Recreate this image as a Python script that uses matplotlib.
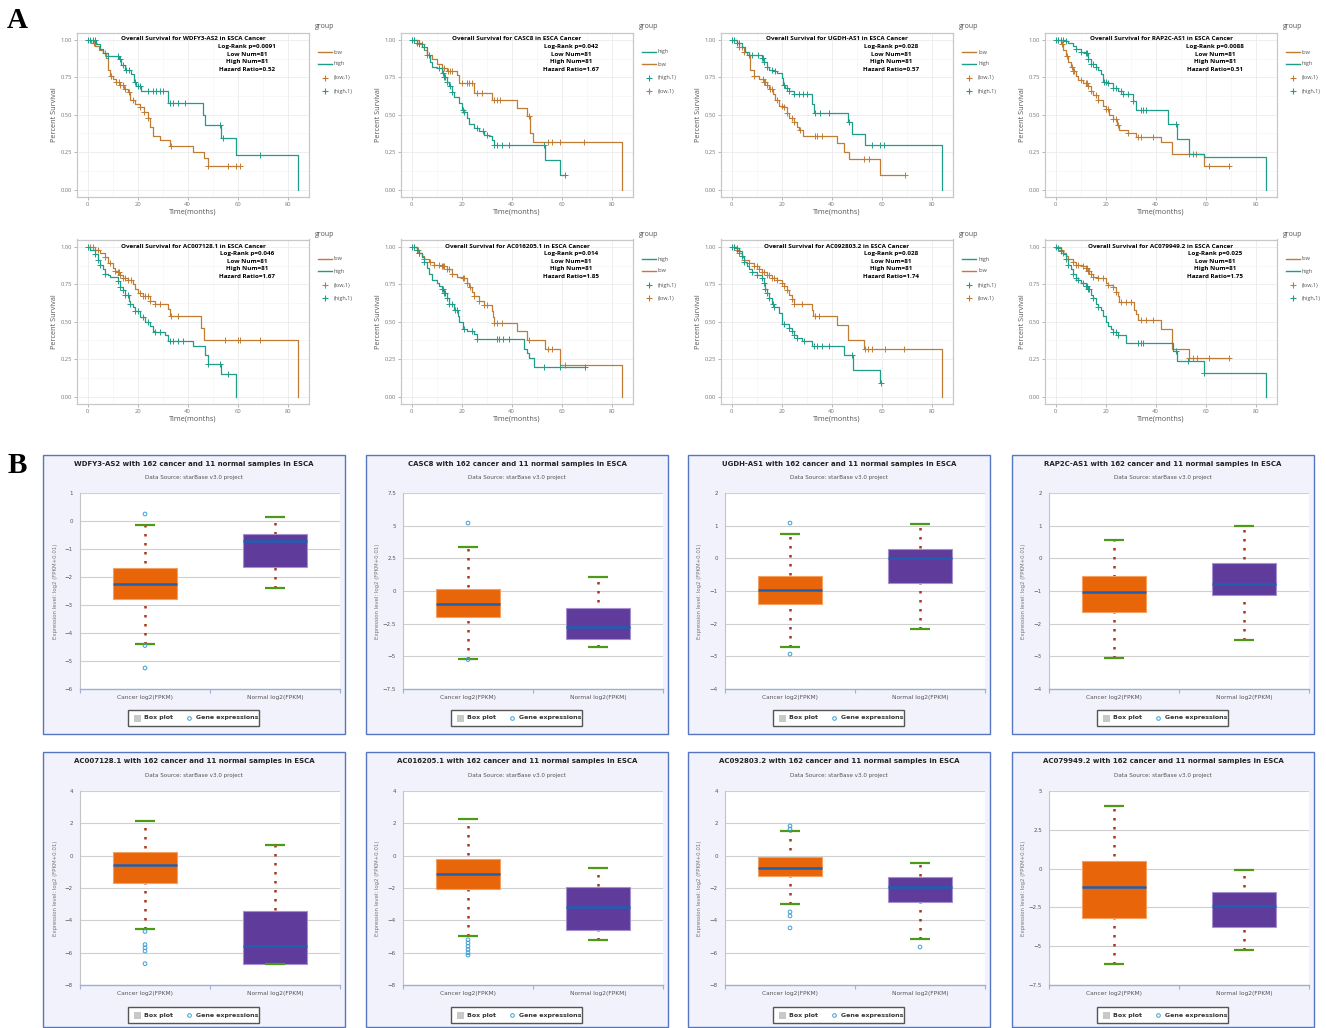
import matplotlib
matplotlib.use("Agg")
import matplotlib.pyplot as plt
import numpy as np
from matplotlib.lines import Line2D
from matplotlib.patches import Rectangle

# ---------------- panel A: Kaplan-Meier data ----------------
km_genes = ["WDFY3-AS2", "CASC8", "UGDH-AS1", "RAP2C-AS1",
            "AC007128.1", "AC016205.1", "AC092803.2", "AC079949.2"]
km_pvals = ["0.0091", "0.042", "0.028", "0.0088", "0.046", "0.014", "0.028", "0.025"]
km_hr = ["0.52", "1.67", "0.57", "0.51", "1.67", "1.85", "1.74", "1.75"]
km_high_first = [False, True, False, False, False, True, True, False]

wdfy3_low_t = [0, 1.5, 3, 4.5, 6, 7.5, 8, 9, 10, 11.5, 13, 14.5, 16, 17, 19, 21, 22.5, 24, 25, 26, 29, 33, 42, 46.5, 48, 61]
wdfy3_low_s = [1, .98, .96, .93, .91, .88, .80, .76, .74, .72, .70, .67, .65, .60, .57, .55, .52, .48, .42, .36, .33, .29, .25, .21, .155, .155]
wdfy3_low_c = [2.5, 7, 9.5, 11.5, 12.5, 13, 14, 15, 16.5, 18, 21, 22.5, 24, 33.5, 48, 56, 59.5, 61]
wdfy3_high_t = [0, 3.5, 5, 6, 8, 12.5, 13.5, 15, 17.5, 18.5, 19.5, 21.5, 32, 46, 47, 53.5, 59.5, 84.3]
wdfy3_high_s = [1, .97, .94, .91, .895, .87, .83, .80, .77, .72, .69, .66, .58, .50, .43, .345, .23, 0]
wdfy3_high_c = [0, 1, 2, 3, 8, 12, 13, 14, 15.5, 16.5, 19, 20, 21, 24, 26, 27.5, 29, 30, 33, 34, 36, 39, 53, 54, 69]

casc8_low_t = [0, 3, 5, 6, 8, 10, 12, 14, 18, 19, 25, 32, 42, 46, 47.5, 48.5, 84.3]
casc8_low_s = [1, .97, .93, .90, .87, .84, .81, .79, .765, .715, .645, .60, .545, .49, .38, .32, 0]
casc8_low_c = [1, 3, 4, 6, 12, 13, 14.5, 15.5, 16, 20, 22, 23, 24, 26, 28, 33, 34, 35.5, 47, 54.5, 56, 59.5, 69]
casc8_high_t = [0, 2, 4, 6, 7.5, 8, 10, 12, 13, 14, 15, 16, 17, 19, 20, 21, 22, 23, 25, 27, 29, 31, 32, 33, 53.3, 59.3, 61.5]
casc8_high_s = [1, .98, .95, .90, .85, .82, .81, .78, .75, .72, .69, .65, .62, .58, .53, .52, .48, .44, .41, .39, .365, .36, .33, .30, .197, .10, .10]
casc8_high_c = [0, 1, 2, 3, 5, 7, 11, 12.5, 13, 13.5, 14, 15.5, 16, 20.5, 21, 26, 28.5, 30, 33, 34, 36, 39, 53, 61.5]

ugdh_low_t = [0, 2, 3, 5, 6, 7.5, 9, 11, 13, 14, 15, 16.5, 17.5, 19, 21, 22, 23, 25, 26, 27, 28.5, 42, 45, 47, 59.5, 69.3]
ugdh_low_s = [1, .98, .95, .92, .90, .80, .76, .74, .72, .70, .67, .64, .60, .56, .55, .51, .48, .45, .42, .40, .36, .31, .25, .205, .10, .10]
ugdh_low_c = [3, 4, 5, 9, 12.5, 13, 13.5, 14, 15.5, 16, 18, 20, 21, 22, 24, 25, 27.5, 33.5, 34, 36, 53, 55, 69.3]
ugdh_high_t = [0, 2, 4, 5.5, 7, 12, 13, 14, 15, 17, 18, 20, 20.5, 21.5, 23, 25, 32, 33, 46.5, 48, 53.5, 84.3]
ugdh_high_s = [1, .98, .95, .92, .90, .88, .85, .82, .80, .79, .78, .745, .70, .68, .66, .64, .575, .51, .45, .37, .30, 0]
ugdh_high_c = [0, 1, 2, 3, 7, 8, 10.5, 12, 12.5, 13, 14, 16, 17.5, 21, 22, 23, 25, 27, 28.5, 30, 33.5, 35.5, 39, 47, 56, 59.5, 61]

rap2c_low_t = [0, 2, 3, 4, 5, 6, 7, 8, 9, 11, 13, 14, 15, 17, 19, 20, 21.5, 23, 24.5, 25.5, 29, 32, 42, 46.5, 59.5, 69.4]
rap2c_low_s = [1, .97, .93, .89, .85, .82, .79, .76, .73, .71, .69, .66, .63, .60, .56, .54, .50, .47, .43, .40, .38, .35, .32, .235, .16, .16]
rap2c_low_c = [1, 2.5, 4.5, 6.5, 7, 7.5, 10, 12, 12.5, 13, 14, 16, 17, 20, 21, 23, 24, 25, 29, 33, 34, 39, 53.5, 55, 56, 61.5, 69.4]
rap2c_high_t = [0, 4, 5, 7, 8, 10, 12, 13, 14, 16, 17, 18, 19, 21, 23, 25, 27, 31, 32, 45, 48.5, 53.5, 59.5, 84.3]
rap2c_high_s = [1, .99, .98, .96, .94, .92, .91, .87, .84, .82, .80, .77, .72, .71, .68, .66, .64, .59, .535, .44, .335, .235, .22, 0]
rap2c_high_c = [0, 1, 2, 3, 4, 8, 10, 12, 12.5, 13, 14, 15, 16, 19.5, 20, 21, 23, 24, 26, 27, 29, 31, 34, 35, 36, 48]

ac007_low_t = [0, 3, 5, 7, 8, 10, 11, 12, 13, 14, 16, 18, 19, 20, 22, 25, 27, 32, 33, 45.5, 46.5, 84.3]
ac007_low_s = [1, .98, .96, .93, .89, .86, .84, .83, .81, .79, .78, .75, .72, .695, .67, .64, .62, .585, .54, .46, .38, 0]
ac007_low_c = [1, 2, 3, 4, 7, 9, 11, 12, 12.5, 13, 14, 15, 16, 17.5, 21, 22, 23, 24, 25, 27, 29, 33.5, 36, 55, 60, 61, 69]
ac007_high_t = [0, 1, 3, 4, 5, 6, 7, 8, 9, 12, 13, 14, 15, 16.5, 17, 18, 19, 21, 23, 25, 26, 27, 31, 32, 42, 47, 48, 53.5, 59.5]
ac007_high_s = [1, .98, .95, .91, .88, .85, .82, .81, .80, .77, .73, .71, .68, .64, .62, .60, .57, .53, .50, .47, .44, .43, .41, .37, .335, .275, .22, .15, 0]
ac007_high_c = [0, 3, 4, 5, 7, 12, 13, 14, 15, 16, 17, 19, 20, 22, 24, 27, 29, 33, 34, 36, 38, 48, 53, 56]

ac016_low_t = [0, 2, 3, 4, 5, 7, 9, 12, 14, 16, 18, 20, 22, 23, 24, 25, 27, 29, 32, 32.5, 33, 42, 46, 53.5, 59.5, 84.3]
ac016_low_s = [1, .98, .96, .94, .92, .90, .88, .87, .85, .82, .80, .79, .76, .73, .70, .67, .64, .61, .57, .53, .49, .435, .38, .32, .21, 0]
ac016_low_c = [1, 2.5, 3, 5, 7.5, 9, 11, 12, 12.5, 13, 14, 15, 16, 20.5, 21, 22, 23.5, 25, 27, 29, 30, 33, 34, 36, 47, 54.5, 56, 61.5]
ac016_high_t = [0, 2, 3, 4, 5, 6, 7, 8, 10, 11, 12, 13, 14, 15, 17, 18.5, 19, 20.5, 22, 25, 26, 45, 46, 47, 49, 69.3]
ac016_high_s = [1, .98, .96, .93, .90, .86, .82, .78, .76, .74, .72, .69, .66, .62, .58, .54, .50, .45, .44, .42, .385, .32, .29, .255, .195, .195]
ac016_high_c = [0, 1, 2, 3, 5, 12, 12.5, 13, 13.5, 14, 15, 16, 17.5, 18, 21, 24, 26, 34, 35, 36.5, 39, 53, 59.5, 69.3]

ac092_low_t = [0, 2, 3, 4, 5, 7, 9, 11, 12, 14, 16, 18, 20, 21, 22, 23, 24, 25, 32, 32.5, 42, 46.5, 53, 84.3]
ac092_low_s = [1, .98, .96, .93, .91, .89, .87, .85, .83, .81, .79, .78, .76, .74, .71, .68, .65, .62, .58, .54, .48, .375, .315, 0]
ac092_low_c = [1, 2, 3, 5, 7, 9, 10, 11, 12, 13, 14, 15, 16, 17, 18, 20, 21, 22, 24, 25, 28, 33.5, 35, 53.5, 54.5, 56, 61.5, 69]
ac092_high_t = [0, 2, 3, 4, 5, 6, 7, 8, 10, 12, 13, 13.5, 14, 15, 16, 17, 19, 20, 23, 24, 25, 26, 28, 32, 45, 48.5, 59.3, 59.6]
ac092_high_s = [1, .99, .97, .94, .90, .87, .85, .83, .81, .79, .76, .72, .69, .66, .62, .60, .56, .487, .46, .44, .41, .39, .37, .34, .275, .18, .093, .093]
ac092_high_c = [0, 1, 2, 3, 4, 5, 8, 10, 12, 13, 13.5, 14, 15, 16.5, 17, 21, 23, 24, 25, 26, 29, 33, 34, 36, 39, 48, 59.6]

ac079_low_t = [0, 2, 3, 4, 5, 7, 8, 11, 12, 13, 14, 15, 17, 20, 21, 23, 24, 25, 25.5, 31.5, 32, 33, 42, 46.5, 53.5, 69.4]
ac079_low_s = [1, .98, .96, .94, .92, .90, .88, .87, .86, .84, .82, .80, .79, .76, .745, .73, .70, .67, .635, .58, .55, .515, .45, .32, .255, .255]
ac079_low_c = [2, 3, 5, 7, 8, 9, 11, 12, 12.5, 13, 13.5, 14, 15, 17, 19, 21, 23, 24, 26, 28, 30, 34, 36, 39, 53.5, 55, 56.5, 61.5, 69.4]
ac079_high_t = [0, 1, 2, 3, 4, 5, 6, 7, 8, 9, 10, 12, 13, 14, 15, 16, 17, 18, 19, 20, 21, 22, 23, 25, 28, 47, 48.5, 59.5, 84.3]
ac079_high_s = [1, .99, .97, .95, .92, .88, .85, .82, .79, .78, .76, .74, .72, .68, .66, .62, .60, .58, .54, .50, .47, .45, .43, .41, .355, .305, .24, .16, 0]
ac079_high_c = [0, 1, 2, 4, 5, 7, 8, 9, 11, 12, 12.5, 13, 13.5, 15, 17, 23, 24, 25, 33, 34, 35, 48, 53, 59.5]

km_low = [(wdfy3_low_t, wdfy3_low_s, wdfy3_low_c), (casc8_low_t, casc8_low_s, casc8_low_c),
          (ugdh_low_t, ugdh_low_s, ugdh_low_c), (rap2c_low_t, rap2c_low_s, rap2c_low_c),
          (ac007_low_t, ac007_low_s, ac007_low_c), (ac016_low_t, ac016_low_s, ac016_low_c),
          (ac092_low_t, ac092_low_s, ac092_low_c), (ac079_low_t, ac079_low_s, ac079_low_c)]
km_high = [(wdfy3_high_t, wdfy3_high_s, wdfy3_high_c), (casc8_high_t, casc8_high_s, casc8_high_c),
           (ugdh_high_t, ugdh_high_s, ugdh_high_c), (rap2c_high_t, rap2c_high_s, rap2c_high_c),
           (ac007_high_t, ac007_high_s, ac007_high_c), (ac016_high_t, ac016_high_s, ac016_high_c),
           (ac092_high_t, ac092_high_s, ac092_high_c), (ac079_high_t, ac079_high_s, ac079_high_c)]

# ---------------- panel B: box plot stats ----------------
box_genes = km_genes
box_ymin = [-6, -7.5, -4, -4, -8, -8, -8, -7.5]
box_ymax = [1, 7.5, 2, 2, 4, 4, 4, 5]
box_ystep = [1, 2.5, 1, 1, 2, 2, 2, 2.5]

cancer_lo = [-4.38, -5.2, -2.7, -3.05, -4.52, -4.97, -2.99, -6.15]
cancer_q1 = [-2.8, -2.0, -1.39, -1.64, -1.71, -2.06, -1.26, -3.19]
cancer_med = [-2.25, -0.99, -0.96, -1.02, -0.58, -1.13, -0.76, -1.19]
cancer_q3 = [-1.68, 0.15, -0.53, -0.53, 0.24, -0.2, -0.08, 0.49]
cancer_hi = [-0.13, 3.37, 0.75, 0.56, 2.15, 2.27, 1.5, 4.03]
cancer_out = [[0.25, -4.45, -5.25], [5.2, -5.25], [1.08, -2.93], [],
              [-4.69, -5.5, -5.7, -5.9, -6.68], [-5.2, -5.4, -5.6, -5.8, -6.0, -6.15],
              [1.84, 1.65, -3.48, -3.73, -4.47], []]

normal_lo = [-2.4, -4.3, -2.16, -2.5, -6.68, -5.2, -5.15, -5.24]
normal_q1 = [-1.65, -3.67, -0.76, -1.12, -6.68, -4.6, -2.87, -3.76]
normal_med = [-0.73, -2.75, 0.0, -0.79, -5.6, -3.17, -1.94, -2.4]
normal_q3 = [-0.45, -1.3, 0.29, -0.14, -3.41, -1.94, -1.32, -1.5]
normal_hi = [0.15, 1.07, 1.05, 0.99, 0.65, -0.76, -0.45, -0.1]
normal_out = [[], [], [], [], [], [], [-5.65], []]

box_cats = ["Cancer log2(FPKM)", "Normal log2(FPKM)"]

LOW_COL = "#C17C34"
HIGH_COL = "#1E9E88"

W, H = 1326, 1028
fig = plt.figure(figsize=(W / 100, H / 100), dpi=100)
fig.patch.set_facecolor("white")


def fx(x):
    return x / W


def fy(y):
    return 1 - y / H


def px_axes(l, t, w, h):
    return fig.add_axes([l / W, 1 - (t + h) / H, w / W, h / H])


fig.text(fx(7), fy(20), "A", fontsize=21, fontweight="bold", family="Liberation Serif", va="center")
fig.text(fx(8), fy(466), "B", fontsize=21, fontweight="bold", family="Liberation Serif", va="center")

# ---------------- A ----------------
km_lefts = [77, 401, 721, 1045]
km_tops = [32.5, 239.5]
KW, KH = 232, 164.5
KFONT = "Open Sans"

for i, gene in enumerate(km_genes):
    r, c = divmod(i, 4)
    l, t = km_lefts[c], km_tops[r]
    ax = px_axes(l, t, KW, KH)
    for (T, S, C), col in ((km_low[i], LOW_COL), (km_high[i], HIGH_COL)):
        ax.step(T, S, where="post", color=col, lw=0.9)
        T = np.array(T)
        S = np.array(S)
        idx = np.searchsorted(T, C, side="right") - 1
        ax.plot(C, S[idx], ls="none", marker="+", color=col, ms=4, mew=0.7)
    ax.set_xlim(-4.2, 88.5)
    ax.set_ylim(-0.05, 1.05)
    ax.set_xticks([0, 20, 40, 60, 80])
    ax.set_xticks([10, 30, 50, 70], minor=True)
    ax.set_yticks([0, 0.25, 0.5, 0.75, 1.0])
    ax.set_yticks([0.125, 0.375, 0.625, 0.875], minor=True)
    ax.set_yticklabels(["0.00", "0.25", "0.50", "0.75", "1.00"])
    ax.grid(which="major", color="#ebebeb", lw=0.6)
    ax.grid(which="minor", color="#f4f4f4", lw=0.4)
    ax.set_axisbelow(True)
    for sp in ax.spines.values():
        sp.set_color("#c8c8c8")
        sp.set_linewidth(0.9)
    ax.tick_params(which="major", labelsize=4.2, length=2, width=0.5, color="#999999",
                   labelcolor="#7a7a7a", pad=1.5)
    ax.tick_params(which="minor", length=0)
    for lab in ax.get_xticklabels() + ax.get_yticklabels():
        lab.set_family(KFONT)
    ax.set_xlabel("Time(months)", fontsize=5.2, color="#555555", family=KFONT, labelpad=1)
    ax.set_ylabel("Percent Survival", fontsize=5.2, color="#555555", family=KFONT, labelpad=2)

    ax.text(0.5, 1 - 6.5 / KH, "Overall Survival for %s in ESCA Cancer" % gene, transform=ax.transAxes,
            ha="center", va="center", fontsize=4.5, fontweight="bold", family=KFONT)
    stats = ["Log-Rank p=%s" % km_pvals[i], "Low Num=81", "High Num=81", "Hazard Ratio=%s" % km_hr[i]]
    for k, s in enumerate(stats):
        ax.text(170 / KW, 1 - (14 + 7.6 * k) / KH, s, transform=ax.transAxes,
                ha="center", va="center", fontsize=4.5, fontweight="bold", family=KFONT)

    # legend
    gx = l + KW + 6
    fig.text(fx(gx), fy(t - 5.5), "group", fontsize=5, color="#555555", family=KFONT, va="center")
    if km_high_first[i]:
        names = ["high", "low"]
        cols = [HIGH_COL, LOW_COL]
    else:
        names = ["low", "high"]
        cols = [LOW_COL, HIGH_COL]
    offs = [19.5, 31.5, 45.5, 58.5]
    for k in range(2):
        y = t + offs[k]
        fig.add_artist(Line2D([fx(gx + 3), fx(gx + 17)], [fy(y), fy(y)], color=cols[k], lw=1))
        fig.text(fx(gx + 19), fy(y), names[k], fontsize=4, color="#555555", family=KFONT, va="center")
    for k in range(2):
        y = t + offs[k + 2]
        fig.add_artist(Line2D([fx(gx + 9.5)], [fy(y)], color=cols[k], marker="+", ms=4, mew=0.8))
        fig.text(fx(gx + 19), fy(y), "(%s,1)" % names[k], fontsize=4, color="#555555",
                 family=KFONT, va="center")

# ---------------- B ----------------
b_lefts = [43, 366, 688, 1012]
b_tops = [455, 752]
b_heights = [279, 275]
BW = 302
p_top = [38, 39]
p_h = [196, 194]

BOX_W = 0.49
CAP_W = 0.155


def fmt(v):
    s = ("%g" % v)
    return s.replace("-", "\u2212")


for i, gene in enumerate(box_genes):
    r, c = divmod(i, 4)
    l, t, h = b_lefts[c], b_tops[r], b_heights[r]
    fig.add_artist(Rectangle((fx(l), fy(t + h)), BW / W, h / H, transform=fig.transFigure,
                             facecolor="#f1f2fb", edgecolor="#5576c0", lw=1.0, zorder=-5))
    ax = px_axes(l + 37, t + p_top[r], 260, p_h[r])
    ax.set_facecolor("white")

    lo = [cancer_lo[i], normal_lo[i]]
    q1 = [cancer_q1[i], normal_q1[i]]
    med = [cancer_med[i], normal_med[i]]
    q3 = [cancer_q3[i], normal_q3[i]]
    hi = [cancer_hi[i], normal_hi[i]]
    outs = [cancer_out[i], normal_out[i]]
    xs = [0, 1]
    ax.vlines(xs, lo, hi, colors="#A8361A", lw=1.8, linestyles=(0, (1, 2.6)), zorder=2)
    ax.bar(xs, np.array(q3) - np.array(q1), bottom=q1, width=BOX_W,
           color=["#E8650A", "#5F3C9B"], edgecolor=["#F3A060", "#A591D0"], lw=0.8, zorder=3)
    ax.hlines(med, np.array(xs) - BOX_W / 2, np.array(xs) + BOX_W / 2, colors="#1F5FB0", lw=1.8, zorder=4)
    ax.hlines(lo + hi, np.array(xs + xs) - CAP_W / 2, np.array(xs + xs) + CAP_W / 2,
              colors="#4C9A16", lw=1.6, zorder=4)
    for x, o in zip(xs, outs):
        if o:
            ax.scatter([x] * len(o), o, s=7, facecolors="none", edgecolors="#3AA0D8", lw=0.7, zorder=5)

    ax.set_xlim(-0.5, 1.5)
    ax.set_ylim(box_ymin[i], box_ymax[i])
    yt = np.arange(box_ymin[i], box_ymax[i] + 0.01, box_ystep[i])
    ax.set_yticks(yt)
    ax.set_yticklabels([fmt(v) for v in yt])
    ax.set_xticks(xs)
    ax.set_xticklabels(box_cats)
    ax.set_xticks([-0.5, 0.5, 1.5], minor=True)
    ax.grid(axis="y", color="#cfcfcf", lw=0.8)
    ax.set_axisbelow(True)
    ax.spines["top"].set_visible(False)
    ax.spines["right"].set_visible(False)
    ax.spines["left"].set_color("#c4c4c4")
    ax.spines["bottom"].set_color("#9fb0d4")
    ax.spines["bottom"].set_linewidth(1.0)
    ax.tick_params(axis="y", length=0, pad=5, labelsize=4, labelcolor="#555555")
    ax.tick_params(axis="x", which="major", length=0, pad=4, labelsize=4.2, labelcolor="#555555")
    ax.tick_params(axis="x", which="minor", length=3, width=0.8, color="#9fb0d4")

    cx = l + BW / 2
    fig.text(fx(cx), fy(t + 9), "%s with 162 cancer and 11 normal samples in ESCA" % gene,
             ha="center", va="center", fontsize=5, fontweight="bold", color="#222222")
    fig.text(fx(cx), fy(t + 23), "Data Source: starBase v3.0 project",
             ha="center", va="center", fontsize=4.1, color="#555555")
    fig.text(fx(l + 12), fy(t + p_top[r] + p_h[r] / 2), "Expression level: log2 (FPKM+0.01)",
             rotation=90, ha="center", va="center", fontsize=3.9, color="#777777")

    # legend box
    ly0, ly1 = t + 255, t + 271
    fig.add_artist(Rectangle((fx(l + 85), fy(ly1)), 131 / W, (ly1 - ly0) / H, transform=fig.transFigure,
                             facecolor="white", edgecolor="#555555", lw=1.0))
    ym = (ly0 + ly1) / 2
    fig.add_artist(Rectangle((fx(l + 91), fy(ym + 3.5)), 7 / W, 7 / H, transform=fig.transFigure,
                             facecolor="#c8c8c8", edgecolor="none"))
    fig.text(fx(l + 101), fy(ym), "Box plot", va="center", fontsize=4.5, color="#333333", fontweight="bold")
    fig.add_artist(Line2D([fx(l + 146)], [fy(ym)], marker="o", ms=2.6, mfc="none", mec="#3AA0D8", mew=0.7))
    fig.text(fx(l + 153), fy(ym), "Gene expressions", va="center", fontsize=4.5, color="#333333",
             fontweight="bold")

fig.savefig("out.png", dpi=100, facecolor="white")
